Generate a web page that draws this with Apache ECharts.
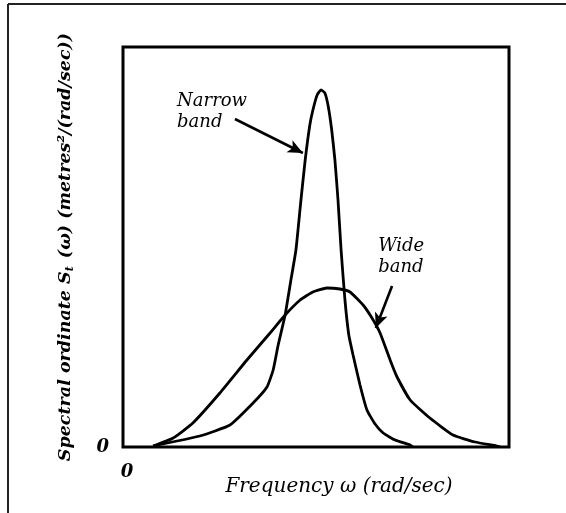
<!DOCTYPE html>
<html>
<head>
<meta charset="utf-8">
<script src="https://cdn.jsdelivr.net/npm/echarts@6/dist/echarts.min.js"></script>
<style>
  html, body { margin: 0; padding: 0; background: #fff; }
  #chart { width: 566px; height: 513px; }
</style>
</head>
<body>
<div id="chart"></div>
<script>
// Spectrum curves (x: frequency, y: spectral ordinate, both in % of axis range)
var narrowX = [7.8, 19.9, 27.7, 33.7, 37.3, 38.9, 40.2, 42.0, 43.5, 44.8, 46.1, 47.2, 48.4, 49.2, 50.3, 51.3,
               52.3, 53.2, 54.1, 54.9, 55.7, 56.5, 57.5, 58.5, 59.6, 61.4, 63.2, 65.3, 67.4, 70.5, 74.4, 75.1];
var narrowY = [0.25, 2.75, 5.5, 11, 15, 19.25, 25.5, 33, 41.75, 49.25, 61.75, 71.75, 80.5, 84.25, 88, 89.25,
               88.5, 85, 79, 71.75, 61.75, 49.25, 36.75, 28, 23, 15.5, 9.25, 5.75, 3.5, 1.75, 0.5, 0];
var wideX = [7.8, 13.0, 18.1, 25.1, 32.1, 38.1, 42.0, 45.9, 49.2, 52.8, 56.2, 58.8, 62.2, 64.5, 66.6,
             69.2, 71.0, 74.4, 79.5, 85.5, 91.2, 96.9, 97.7];
var wideY = [0.25, 2.25, 6, 13.5, 21.75, 28.5, 33, 36.75, 38.75, 39.75, 39.5, 38.75, 35.5, 32.25, 28.5,
             21.75, 17.5, 11.75, 7.25, 3, 1.25, 0.25, 0];

// annotation labels and their arrows (data coordinates)
var labelText = ['Narrow\nband', 'Wide\nband'];
var labelPos = [[14.0, 83.75], [66.1, 47.5]];
var arrowFrom = [[29.0, 82.0], [69.7, 40.25]];
var arrowTo = [[46.6, 73.5], [65.5, 29.75]];

function pairs(xs, ys) {
    return xs.map(function (x, i) { return [x, ys[i]]; });
}

var serif = 'DejaVu Serif';
var chart = echarts.init(document.getElementById('chart'), null, { renderer: 'canvas' });

var option = {
    animation: false,
    backgroundColor: '#fff',
    grid: {
        left: 123, right: 57, top: 47, bottom: 66,
        show: true, borderColor: '#000', borderWidth: 3, backgroundColor: 'transparent'
    },
    xAxis: {
        type: 'value', min: 0, max: 100, interval: 100,
        axisLine: { show: false }, axisTick: { show: false }, splitLine: { show: false },
        axisLabel: {
            margin: 16, padding: [0, 0, 0, 8],
            fontFamily: serif, fontStyle: 'italic', fontWeight: 'bold', fontSize: 18, color: '#000',
            formatter: function (v) { return v === 0 ? '0' : ''; }
        },
        name: 'Frequency ω (rad/sec)',
        nameLocation: 'middle', nameGap: 30, nameMoveOverlap: false,
        nameTextStyle: { fontFamily: serif, fontStyle: 'italic', fontSize: 20, color: '#000', padding: [0, 0, 0, 46] }
    },
    yAxis: {
        type: 'value', min: 0, max: 100, interval: 100,
        axisLine: { show: false }, axisTick: { show: false }, splitLine: { show: false },
        axisLabel: {
            margin: 14,
            fontFamily: serif, fontStyle: 'italic', fontWeight: 'bold', fontSize: 18, color: '#000',
            formatter: function (v) { return v === 0 ? '0' : ''; }
        },
        name: '{b|Spectral ordinate S}{s|t}{b| (ω) (metres²/(rad/sec))}',
        nameLocation: 'middle', nameGap: 47, nameMoveOverlap: false,
        nameTextStyle: {
            color: '#000',
            rich: {
                b: { fontFamily: serif, fontStyle: 'italic', fontWeight: 'bold', fontSize: 17.5, color: '#000', lineHeight: 22 },
                s: { fontFamily: serif, fontStyle: 'italic', fontWeight: 'bold', fontSize: 11, color: '#000', lineHeight: 22, verticalAlign: 'bottom', padding: [9, 2, 0, 0] }
            }
        }
    },
    series: [
        {
            name: 'Narrow band', type: 'line', data: pairs(narrowX, narrowY),
            showSymbol: false, smooth: 0.15,
            lineStyle: { color: '#000', width: 2.8 },
            markLine: {
                silent: true, symbol: ['none', 'arrow'], symbolSize: [10, 15],
                label: { show: false },
                lineStyle: { color: '#000', width: 2.6, type: 'solid' },
                data: arrowFrom.map(function (p, i) {
                    return [{ coord: p }, { coord: arrowTo[i] }];
                })
            },
            markPoint: {
                silent: true, symbol: 'circle', symbolSize: 0,
                label: {
                    show: true, position: 'right', distance: 0,
                    fontFamily: serif, fontStyle: 'italic', fontSize: 18, lineHeight: 21, color: '#000',
                    formatter: function (p) { return p.name; }
                },
                data: labelPos.map(function (p, i) { return { name: labelText[i], coord: p }; })
            }
        },
        {
            name: 'Wide band', type: 'line', data: pairs(wideX, wideY),
            showSymbol: false, smooth: 0.15,
            lineStyle: { color: '#000', width: 2.8 }
        }
    ],
    graphic: [
        { type: 'line', shape: { x1: 8, y1: 4, x2: 566, y2: 4 }, style: { stroke: '#222', lineWidth: 2 } },
        { type: 'line', shape: { x1: 8, y1: 4, x2: 8, y2: 513 }, style: { stroke: '#222', lineWidth: 2 } }
    ]
};

chart.setOption(option);
</script>
</body>
</html>
